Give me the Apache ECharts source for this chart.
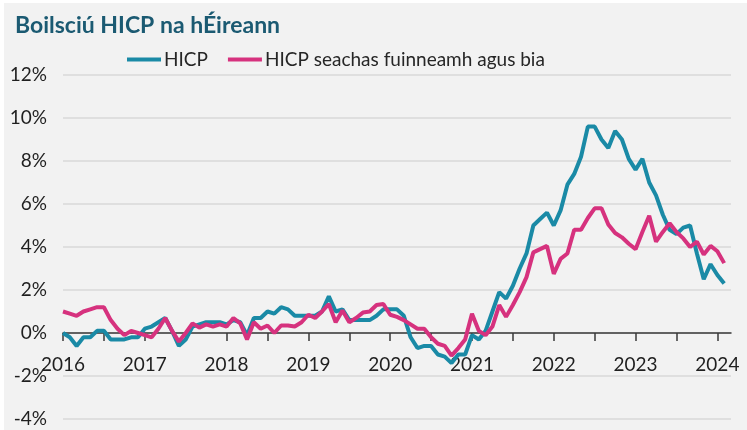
<!DOCTYPE html>
<html>
<head>
<meta charset="utf-8">
<script src="https://cdn.jsdelivr.net/npm/echarts@6/dist/echarts.min.js"></script>
<style>
  html, body { margin: 0; padding: 0; background: #ffffff; }
  #chart { position: absolute; left: 4px; top: 3px; width: 743px; height: 427px; }
</style>
</head>
<body>
<div id="chart"></div>
<script>
// monthly annual rates, Jan 2016 .. Feb 2024
var startYear = 2016;
var seriesNames = ['HICP', 'HICP seachas fuinneamh agus bia'];

var hicp = [
  0.0, -0.2, -0.6, -0.2, -0.2, 0.1, 0.1, -0.3, -0.3, -0.3, -0.2, -0.2,
  0.2, 0.3, 0.5, 0.7, 0.1, -0.6, -0.3, 0.3, 0.4, 0.5, 0.5, 0.5,
  0.4, 0.6, 0.5, -0.1, 0.7, 0.7, 1.0, 0.9, 1.2, 1.1, 0.8, 0.8,
  0.8, 0.8, 1.0, 1.7, 1.0, 1.1, 0.6, 0.6, 0.6, 0.6, 0.8, 1.1,
  1.1, 1.1, 0.8, -0.2, -0.7, -0.6, -0.6, -1.0, -1.1, -1.4, -1.0, -1.0,
  -0.1, -0.3, 0.1, 1.0, 1.9, 1.6, 2.2, 3.0, 3.7, 5.0, 5.3, 5.6,
  5.0, 5.7, 6.9, 7.4, 8.2, 9.6, 9.6, 9.0, 8.6, 9.4, 9.0, 8.1,
  7.6, 8.1, 7.0, 6.4, 5.5, 4.8, 4.6, 4.9, 5.0, 3.7, 2.5, 3.2,
  2.7, 2.3
];

var core = [
  1.0, 0.9, 0.8, 1.0, 1.1, 1.2, 1.2, 0.6, 0.2, -0.1, 0.1, 0.0,
  -0.1, -0.2, 0.2, 0.7, 0.1, -0.4, 0.0, 0.45, 0.25, 0.4, 0.3, 0.4,
  0.3, 0.7, 0.45, -0.3, 0.5, 0.2, 0.35, 0.0, 0.35, 0.35, 0.3, 0.5,
  0.85, 0.7, 1.0, 1.35, 0.5, 1.05, 0.5, 0.7, 0.95, 1.0, 1.3, 1.35,
  0.85, 0.75, 0.6, 0.4, 0.2, 0.2, -0.2, -0.5, -0.6, -1.05, -0.7, -0.3,
  0.9, 0.1, -0.1, 0.3, 1.3, 0.75, 1.3, 1.9, 2.6, 3.75, 3.9, 4.05,
  2.75, 3.45, 3.7, 4.8, 4.8, 5.35, 5.8, 5.8, 5.05, 4.65, 4.45, 4.15,
  3.9, 4.7, 5.45, 4.25, 4.7, 5.1, 4.7, 4.4, 4.0, 4.25, 3.65, 4.05,
  3.8, 3.25
];

var yTicks = [-4, -2, 0, 2, 4, 6, 8, 10, 12];
var yearTicks = [];   // label positions (month index)
var halfYearTicks = [];
for (var m = 0; m <= 96; m += 6) {
  halfYearTicks.push(m);
  if (m % 12 === 0) yearTicks.push(m);
}

function toPoints(arr) {
  var out = [];
  for (var i = 0; i < arr.length; i++) out.push([i, arr[i]]);
  return out;
}

var gridTop = 72, gridBottom = 11, chartH = 427;
var yMin = yTicks[0], yMax = yTicks[yTicks.length - 1];
// move the x axis up to the 0% line
var zeroOffset = -(chartH - gridTop - gridBottom) * (0 - yMin) / (yMax - yMin);

var myChart = echarts.init(document.getElementById('chart'));

var option = {
  backgroundColor: '#f2f2f2',
  animation: false,
  textStyle: { fontFamily: 'Lato' },
  title: {
    text: 'Boilsciú HICP na hÉireann',
    left: 6,
    top: 6,
    textStyle: { fontFamily: 'Lato', fontWeight: 'bold', fontSize: 23, color: '#1b5a72' }
  },
  legend: {
    left: 118,
    top: 42,
    icon: 'rect',
    itemWidth: 34,
    itemHeight: 4,
    itemGap: 20,
    textStyle: { fontFamily: 'Lato', fontSize: 19, color: '#262626', padding: [0, 0, 0, -2] },
    data: seriesNames
  },
  grid: { left: 59, right: 16, top: gridTop, bottom: gridBottom, outerBoundsMode: 'none', containLabel: false },
  xAxis: {
    type: 'value',
    min: 0,
    max: 98,
    offset: zeroOffset,
    splitLine: { show: false },
    axisLine: { onZero: false, lineStyle: { color: '#3a3a3a', width: 1.5 } },
    axisTick: { show: true, length: 8, customValues: halfYearTicks, lineStyle: { color: '#3a3a3a', width: 1.5 } },
    axisLabel: {
      customValues: yearTicks,
      margin: 22,
      fontSize: 19,
      color: '#1f1f1f',
      formatter: function (v) { return String(startYear + Math.round(v / 12)); }
    }
  },
  yAxis: {
    type: 'value',
    min: yMin,
    max: yMax,
    interval: 2,
    axisLine: { show: false },
    axisTick: { show: false },
    splitLine: { lineStyle: { color: '#d9d9d9', width: 1.5 } },
    axisLabel: { formatter: '{value}%', fontSize: 19, color: '#1f1f1f', margin: 16 }
  },
  series: [
    {
      name: seriesNames[0],
      type: 'line',
      data: toPoints(hicp),
      showSymbol: false,
      lineStyle: { color: '#1a8aa6', width: 4 },
      itemStyle: { color: '#1a8aa6' }
    },
    {
      name: seriesNames[1],
      type: 'line',
      data: toPoints(core),
      showSymbol: false,
      lineStyle: { color: '#d6327e', width: 4 },
      itemStyle: { color: '#d6327e' }
    }
  ]
};

myChart.setOption(option);
</script>
</body>
</html>
